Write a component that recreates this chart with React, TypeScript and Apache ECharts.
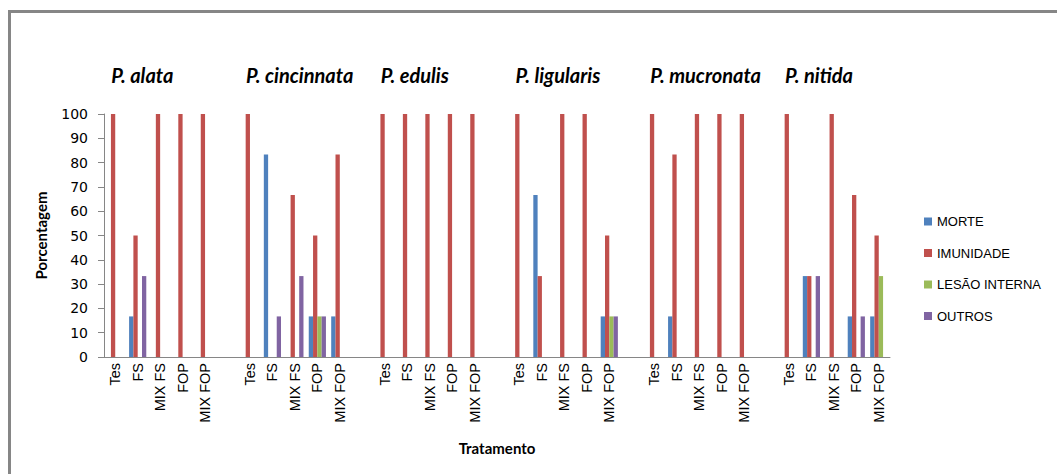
import React, { useEffect, useRef } from "react";
import * as echarts from "echarts";

// Species groups and treatments shown along the x axis
const species = ["P. alata", "P. cincinnata", "P. edulis", "P. ligularis", "P. mucronata", "P. nitida"];
const treatments = ["Tes", "FS", "MIX FS", "FOP", "MIX FOP"];

// Percentages per species (rows) and treatment (columns); null = no bar
const morte: (number | null)[][] = [
  [null, 16.7, null, null, null],
  [null, 83.3, null, 16.7, 16.7],
  [null, null, null, null, null],
  [null, 66.7, null, null, 16.7],
  [null, 16.7, null, null, null],
  [null, 33.3, null, 16.7, 16.7],
];
const imunidade: (number | null)[][] = [
  [100, 50, 100, 100, 100],
  [100, null, 66.7, 50, 83.3],
  [100, 100, 100, 100, 100],
  [100, 33.3, 100, 100, 50],
  [100, 83.3, 100, 100, 100],
  [100, 33.3, 100, 66.7, 50],
];
const lesaoInterna: (number | null)[][] = [
  [null, null, null, null, null],
  [null, null, null, 16.7, null],
  [null, null, null, null, null],
  [null, null, null, null, 16.7],
  [null, null, null, null, null],
  [null, null, null, null, 33.3],
];
const outros: (number | null)[][] = [
  [null, 33.3, null, null, null],
  [null, 16.7, 33.3, 16.7, null],
  [null, null, null, null, null],
  [null, null, null, null, 16.7],
  [null, null, null, null, null],
  [null, 33.3, null, 16.7, null],
];

const seriesNames = ["MORTE", "IMUNIDADE", "LESÃO INTERNA", "OUTROS"];
const seriesColors = ["#4F81BD", "#C0504D", "#9BBB59", "#8064A2"];

// Flatten groups into one category axis with an empty slot between groups
function buildCategories() {
  const cats: string[] = [];
  const top: string[] = [];
  species.forEach((sp, g) => {
    treatments.forEach((t, i) => {
      cats.push(t);
      top.push(i === 0 ? sp : "");
    });
    if (g < species.length - 1) {
      cats.push("");
      top.push("");
    }
  });
  return { cats, top };
}

function flatten(rows: (number | null)[][]) {
  const out: (number | null)[] = [];
  rows.forEach((r, g) => {
    out.push(...r);
    if (g < rows.length - 1) out.push(null);
  });
  return out;
}

export default function App() {
  const ref = useRef<HTMLDivElement>(null);

  useEffect(() => {
    if (!ref.current) return;
    const chart = echarts.init(ref.current, null, { renderer: "svg" });
    const { cats, top } = buildCategories();
    const data = [morte, imunidade, lesaoInterna, outros].map(flatten);

    chart.setOption({
      animation: false,
      backgroundColor: "#ffffff",
      textStyle: { fontFamily: "Liberation Sans, Arial, sans-serif" },
      graphic: [
        {
          type: "line",
          shape: { x1: 8, y1: 11.5, x2: 1057, y2: 11.5 },
          style: { stroke: "#868686", lineWidth: 3 },
        },
        {
          type: "line",
          shape: { x1: 9.5, y1: 10, x2: 9.5, y2: 474 },
          style: { stroke: "#868686", lineWidth: 3 },
        },
      ],
      grid: { left: 104, right: 167, top: 114, bottom: 117, containLabel: false },
      legend: {
        orient: "vertical",
        left: 919,
        top: 210,
        itemWidth: 8,
        itemHeight: 8,
        itemGap: 18.5,
        icon: "rect",
        selectedMode: false,
        textStyle: { fontSize: 13, color: "#000", fontFamily: "Liberation Sans, Arial, sans-serif" },
        data: seriesNames,
      },
      xAxis: [
        {
          type: "category",
          data: cats,
          axisLine: { lineStyle: { color: "#868686", width: 1 } },
          axisTick: { show: false },
          axisLabel: {
            interval: 0,
            rotate: 90,
            margin: 6,
            fontSize: 14.5,
            color: "#000",
            fontFamily: "Liberation Sans, Arial, sans-serif",
          },
          name: "Tratamento",
          nameLocation: "middle",
          nameGap: 83,
          nameTextStyle: { fontSize: 15, fontWeight: "bold", color: "#000", fontFamily: "Lato, sans-serif" },
        },
        {
          type: "category",
          data: top,
          position: "top",
          axisLine: { show: false },
          axisTick: { show: false },
          axisLabel: {
            interval: 0,
            align: "left",
            margin: 29,
            fontSize: 20,
            fontWeight: "bold",
            fontStyle: "italic",
            color: "#000",
            fontFamily: "Lato, sans-serif",
            padding: [0, 0, 0, -4],
          },
        },
      ],
      yAxis: {
        type: "value",
        min: 0,
        max: 100,
        interval: 10,
        axisLine: { show: true, lineStyle: { color: "#868686", width: 1 } },
        axisTick: { show: true, length: 6, lineStyle: { color: "#868686" } },
        splitLine: { show: false },
        axisLabel: { fontSize: 14, color: "#000", margin: 16, fontFamily: "DejaVu Sans, sans-serif" },
        name: "Porcentagem",
        nameLocation: "middle",
        nameGap: 56,
        nameTextStyle: { fontSize: 15, fontWeight: "bold", color: "#000", fontFamily: "Lato, sans-serif" },
      },
      series: seriesNames.map((name, i) => ({
        name,
        type: "bar",
        xAxisIndex: 0,
        data: data[i],
        barWidth: 4.3,
        barGap: "0%",
        itemStyle: { color: seriesColors[i] },
      })),
    });

    return () => chart.dispose();
  }, []);

  return (
    <div
      ref={ref}
      style={{ position: "fixed", left: 0, top: 0, width: 1057, height: 474, background: "#fff" }}
    />
  );
}
